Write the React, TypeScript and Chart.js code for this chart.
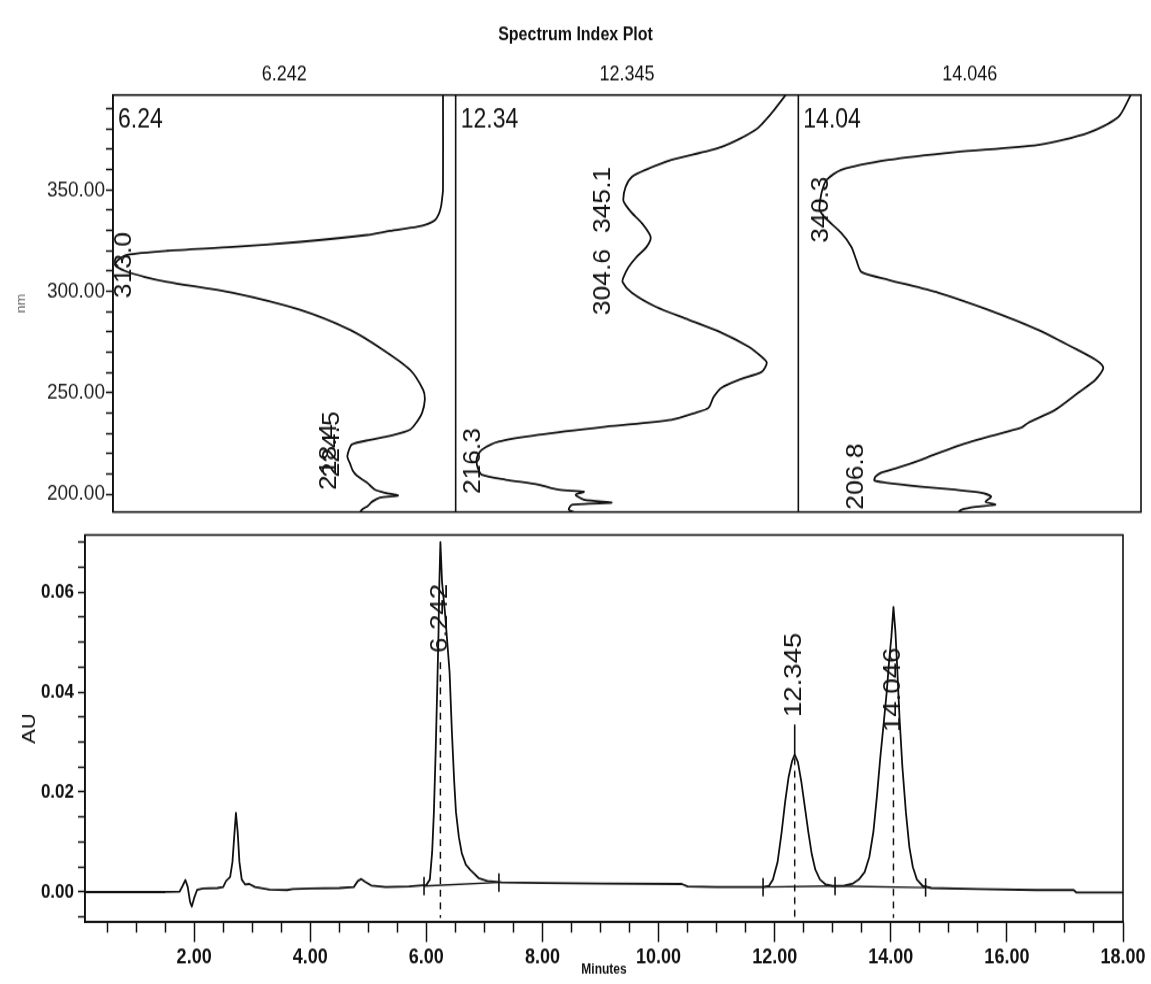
import React, { useEffect, useRef } from "react";
import { Chart, registerables } from "chart.js";

Chart.register(...registerables);

// ---------- spectra (wavelength in nm vs. relative absorbance, 0..1 per panel) ----------
const spectrumTimes = ["6.242", "12.345", "14.046"];

const spec1Nm = [396.8, 350.0, 345.1, 341.6, 338.2, 335.2, 333.3, 331.8, 329.8, 327.8, 324.4, 321.9, 320.0, 318.0, 315.5, 313.0, 310.1, 307.1, 304.7, 299.3, 290.9, 281.0, 271.2, 261.3, 251.5, 246.6, 240.1, 235.7, 231.8, 228.8, 226.8, 224.5, 221.5, 218.4, 215.0, 211.5, 209.1, 205.7, 202.2, 200.7, 199.3, 198.3, 196.3, 194.3, 192.4, 191.2];
const spec1Abs = [0.963, 0.963, 0.960, 0.957, 0.951, 0.940, 0.919, 0.887, 0.808, 0.741, 0.546, 0.350, 0.158, 0.041, 0.015, 0.006, 0.035, 0.093, 0.158, 0.350, 0.546, 0.692, 0.788, 0.867, 0.905, 0.910, 0.902, 0.887, 0.867, 0.808, 0.750, 0.697, 0.688, 0.684, 0.692, 0.700, 0.712, 0.741, 0.765, 0.794, 0.832, 0.779, 0.756, 0.744, 0.727, 0.721];

const spec2Nm = [396.8, 387.9, 379.6, 371.2, 364.8, 359.9, 356.4, 351.5, 345.1, 342.6, 338.7, 333.7, 326.8, 321.9, 317.0, 312.1, 307.1, 304.6, 299.3, 292.4, 286.0, 279.6, 272.7, 267.7, 264.8, 260.3, 256.4, 252.5, 248.0, 242.6, 240.1, 236.7, 233.3, 229.3, 225.9, 221.9, 218.9, 216.3, 213.1, 209.6, 207.1, 204.7, 202.2, 201.2, 199.8, 197.3, 195.8, 194.8, 192.4, 191.2];
const spec2Abs = [0.963, 0.922, 0.875, 0.776, 0.630, 0.554, 0.514, 0.496, 0.489, 0.496, 0.514, 0.543, 0.569, 0.557, 0.528, 0.505, 0.490, 0.487, 0.514, 0.584, 0.680, 0.776, 0.855, 0.893, 0.908, 0.893, 0.826, 0.776, 0.753, 0.738, 0.700, 0.630, 0.438, 0.242, 0.125, 0.076, 0.064, 0.061, 0.064, 0.076, 0.146, 0.242, 0.300, 0.374, 0.350, 0.374, 0.455, 0.339, 0.330, 0.344];

const spec3Nm = [396.8, 386.0, 378.1, 372.2, 368.7, 364.8, 359.9, 354.9, 350.0, 345.1, 340.3, 336.0, 328.8, 321.9, 315.5, 309.6, 305.7, 299.3, 290.9, 281.0, 272.7, 266.3, 262.3, 256.4, 250.0, 241.6, 235.2, 232.8, 228.3, 223.4, 217.0, 213.1, 210.6, 208.6, 206.8, 205.7, 203.7, 202.2, 200.7, 198.8, 196.3, 194.8, 193.8, 192.4, 191.2];
const spec3Abs = [0.970, 0.934, 0.846, 0.700, 0.458, 0.263, 0.125, 0.082, 0.070, 0.064, 0.062, 0.080, 0.125, 0.155, 0.169, 0.184, 0.263, 0.409, 0.554, 0.700, 0.797, 0.867, 0.890, 0.867, 0.817, 0.750, 0.671, 0.651, 0.554, 0.458, 0.359, 0.292, 0.242, 0.225, 0.222, 0.254, 0.359, 0.458, 0.534, 0.563, 0.546, 0.575, 0.517, 0.476, 0.467];

// wavelength annotations: text, panel index, horizontal anchor (relative absorbance)
const specLabelText = ["313.0", "218.4", "224.5", "345.1", "304.6", "216.3", "340.3", "206.8"];
const specLabelPanel = [0, 0, 0, 1, 1, 1, 2, 2];
const specLabelAbs = [0.033, 0.632, 0.642, 0.432, 0.432, 0.053, 0.067, 0.169];

const nmMajorTicks = [200, 250, 300, 350];

// ---------- chromatogram ----------
const chromTime = [0.12, 0.5, 1.0, 1.5, 1.75, 1.80, 1.85, 1.89, 1.93, 1.96, 2.00, 2.05, 2.15, 2.40, 2.50, 2.55, 2.62, 2.66, 2.69, 2.72, 2.75, 2.78, 2.82, 2.88, 2.95, 3.05, 3.3, 3.6, 3.7, 4.0, 4.5, 4.75, 4.82, 4.88, 4.95, 5.05, 5.3, 5.7, 6.00, 6.06, 6.10, 6.13, 6.16, 6.19, 6.21, 6.22, 6.242, 6.27, 6.32, 6.36, 6.40, 6.44, 6.48, 6.51, 6.56, 6.61, 6.68, 6.76, 6.90, 7.05, 7.3, 8.0, 9.0, 10.4, 10.5, 11.0, 11.8, 11.9, 11.97, 12.05, 12.12, 12.18, 12.24, 12.30, 12.345, 12.40, 12.46, 12.52, 12.58, 12.64, 12.70, 12.78, 12.88, 13.0, 13.2, 13.35, 13.45, 13.55, 13.63, 13.70, 13.76, 13.82, 13.88, 13.93, 13.97, 14.01, 14.046, 14.08, 14.11, 14.15, 14.20, 14.26, 14.32, 14.38, 14.45, 14.55, 14.7, 15.5, 16.5, 17.15, 17.2, 18.0];
const chromAU = [0.0000, 0.0000, 0.0000, 0.0000, 0.0001, 0.0012, 0.0024, 0.0010, -0.0020, -0.0029, -0.0012, 0.0004, 0.0007, 0.0008, 0.0010, 0.0022, 0.0030, 0.0060, 0.0110, 0.0158, 0.0120, 0.0060, 0.0025, 0.0015, 0.0016, 0.0010, 0.0005, 0.0004, 0.0006, 0.0007, 0.0008, 0.0010, 0.0022, 0.0026, 0.0020, 0.0013, 0.0010, 0.0011, 0.0014, 0.0025, 0.0080, 0.0160, 0.0280, 0.0420, 0.0520, 0.0600, 0.0700, 0.0620, 0.0560, 0.0500, 0.0440, 0.0320, 0.0220, 0.0160, 0.0110, 0.0078, 0.0055, 0.0044, 0.0028, 0.0022, 0.0019, 0.0018, 0.0017, 0.0016, 0.0011, 0.0010, 0.0010, 0.0012, 0.0025, 0.0060, 0.0120, 0.0180, 0.0230, 0.0262, 0.0275, 0.0260, 0.0220, 0.0170, 0.0120, 0.0075, 0.0045, 0.0025, 0.0015, 0.0012, 0.0013, 0.0017, 0.0025, 0.0040, 0.0070, 0.0120, 0.0190, 0.0270, 0.0340, 0.0400, 0.0460, 0.0510, 0.0570, 0.0520, 0.0450, 0.0350, 0.0250, 0.0160, 0.0090, 0.0050, 0.0025, 0.0012, 0.0008, 0.0006, 0.0004, 0.0004, -0.0001, -0.0001];

const peakTimes = [6.242, 12.345, 14.046];
const peakApexAU = [0.0700, 0.0275, 0.0570];
const peakLabelAU = [0.0478, 0.0350, 0.0320];
const peakDashTopAU = [0.0460, 0.0268, 0.0310];
const dashBottomAU = -0.0052;

const intMarkTimes = [5.96, 7.25, 11.8, 13.04, 14.6];
const intMarkAU = [0.0012, 0.0019, 0.0010, 0.0012, 0.0009];
const intBaselines = [[0, 1], [2, 3], [3, 4]];

const auMajorTicks = [0, 0.02, 0.04, 0.06];
const minuteMajorTicks = [2, 4, 6, 8, 10, 12, 14, 16, 18];

// ---------- layout ----------
const FONT = '"Liberation Sans", Arial, Helvetica, sans-serif';
Chart.defaults.font.family = FONT;
Chart.defaults.color = "#111";

const PAGE_W = 1151;
const PAGE_H = 984;
const TOP_CSS_H = 540;
const TOP_DRAW_H = 470;
const TOP_K = TOP_CSS_H / TOP_DRAW_H;
const BOT_TOP = 500;
const BOT_CSS_H = 484;
const BOT_DRAW_H = 421;
const BOT_K = BOT_CSS_H / BOT_DRAW_H;

const INK = "#111";

const range = (from: number, to: number, step: number) => {
  const out: number[] = [];
  const n = Math.round((to - from) / step);
  for (let i = 0; i <= n; i++) out.push(Math.round((from + i * step) * 10000) / 10000);
  return out;
};
const isOn = (v: number, list: number[]) => list.some((m) => Math.abs(m - v) < 1e-6);

const spectraDecor = {
  id: "spectraDecor",
  afterDraw(chart: any) {
    const { ctx, chartArea: a } = chart;
    const x = chart.scales.x;
    const y = chart.scales.y;
    ctx.save();
    ctx.strokeStyle = INK;
    ctx.lineWidth = 1.6;
    ctx.strokeRect(a.left, a.top, a.right - a.left, a.bottom - a.top);
    ctx.beginPath();
    for (let i = 1; i < spectrumTimes.length; i++) {
      const px = x.getPixelForValue(i);
      ctx.moveTo(px, a.top);
      ctx.lineTo(px, a.bottom);
    }
    ctx.stroke();

    ctx.fillStyle = INK;
    ctx.textAlign = "center";
    ctx.textBaseline = "middle";
    ctx.font = `bold 16px ${FONT}`;
    ctx.fillText("Spectrum Index Plot", chart.width / 2, 35 / TOP_K);
    ctx.font = `18px ${FONT}`;
    spectrumTimes.forEach((t, i) => ctx.fillText(t, x.getPixelForValue(i + 0.5), 75 / TOP_K));

    ctx.textAlign = "left";
    ctx.textBaseline = "alphabetic";
    ctx.font = `23px ${FONT}`;
    spectrumTimes.forEach((t, i) => {
      const short = (Math.floor(parseFloat(t) * 100) / 100).toFixed(2);
      ctx.fillText(short, x.getPixelForValue(i) + 5, 127 / TOP_K);
    });

    ctx.textAlign = "center";
    ctx.textBaseline = "middle";
    ctx.font = `23px ${FONT}`;
    specLabelText.forEach((txt, k) => {
      const px = x.getPixelForValue(specLabelPanel[k] + specLabelAbs[k]);
      const half = ctx.measureText(txt).width / 2;
      let py = y.getPixelForValue(parseFloat(txt));
      py = Math.min(py, a.bottom - 2 - half);
      py = Math.max(py, a.top + 2 + half);
      ctx.save();
      ctx.translate(px, py);
      ctx.rotate(-Math.PI / 2);
      ctx.fillText(txt, 0, 0);
      ctx.restore();
    });
    ctx.restore();
  },
};

const chromDecor = {
  id: "chromDecor",
  afterDraw(chart: any) {
    const { ctx, chartArea: a } = chart;
    const x = chart.scales.x;
    const y = chart.scales.y;
    ctx.save();
    ctx.strokeStyle = INK;
    ctx.lineWidth = 1.6;
    ctx.strokeRect(a.left, a.top, a.right - a.left, a.bottom - a.top);
    ctx.fillStyle = INK;
    ctx.font = `24px ${FONT}`;
    ctx.textAlign = "left";
    ctx.textBaseline = "middle";
    peakTimes.forEach((t, i) => {
      ctx.save();
      ctx.translate(x.getPixelForValue(t), y.getPixelForValue(peakLabelAU[i]));
      ctx.rotate(-Math.PI / 2);
      ctx.fillText(t.toFixed(3), 0, 0);
      ctx.restore();
    });
    ctx.restore();
  },
};

function spectraConfig(): any {
  const sets = [
    [spec1Nm, spec1Abs],
    [spec2Nm, spec2Abs],
    [spec3Nm, spec3Abs],
  ];
  return {
    type: "line",
    data: {
      datasets: sets.map(([nm, ab], p) => ({
        data: nm.map((w, i) => ({ x: p + ab[i], y: w })),
        borderColor: INK,
        borderWidth: 1.8,
        pointRadius: 0,
        tension: 0.25,
        borderJoinStyle: "round",
      })),
    },
    options: {
      animation: false,
      responsive: false,
      devicePixelRatio: 1,
      events: [],
      layout: {
        padding: { top: 95 / TOP_K, bottom: TOP_DRAW_H - 512 / TOP_K, left: 0, right: PAGE_W - 1141 },
      },
      plugins: { legend: { display: false }, tooltip: { enabled: false }, title: { display: false }, colors: { enabled: false } },
      scales: {
        x: { type: "linear", min: 0, max: 3, display: false },
        y: {
          type: "linear",
          min: 191.2,
          max: 396.8,
          afterFit: (s: any) => {
            s.width = 113;
          },
          afterBuildTicks: (s: any) => {
            s.ticks = range(200, 390, 10).map((v) => ({ value: v }));
          },
          ticks: {
            autoSkip: false,
            padding: 1,
            color: "#222",
            font: { size: 19 },
            callback: (v: number) => (isOn(v, nmMajorTicks) ? Number(v).toFixed(2) : ""),
          },
          grid: { drawOnChartArea: false, drawTicks: true, tickLength: 7, tickWidth: 1.5, tickColor: INK },
          border: { display: true, color: INK, width: 1.6 },
          title: { display: true, text: "nm", color: "#666", font: { size: 12 }, padding: { top: 14, bottom: 0 } },
        },
      },
    },
    plugins: [spectraDecor],
  };
}

function chromConfig(): any {
  const datasets: any[] = [
    {
      data: chromTime.map((t, i) => ({ x: t, y: chromAU[i] })),
      borderColor: INK,
      borderWidth: 1.8,
      pointRadius: 0,
      tension: 0,
      borderJoinStyle: "round",
    },
    ...intBaselines.map(([i, j]) => ({
      data: [
        { x: intMarkTimes[i], y: intMarkAU[i] },
        { x: intMarkTimes[j], y: intMarkAU[j] },
      ],
      borderColor: INK,
      borderWidth: 1.3,
      pointRadius: 0,
    })),
    {
      data: intMarkTimes.map((t, i) => ({ x: t, y: intMarkAU[i] })),
      showLine: false,
      pointStyle: "line",
      pointRotation: 90,
      pointRadius: 8,
      pointBorderWidth: 1.6,
      pointBorderColor: INK,
      borderColor: INK,
    },
    ...peakTimes.map((t, i) => ({
      data: [
        { x: t, y: peakDashTopAU[i] },
        { x: t, y: dashBottomAU },
      ],
      borderColor: INK,
      borderWidth: 1.5,
      borderDash: [6, 5],
      pointRadius: 0,
    })),
    ...peakTimes
      .map((t, i) => ({ t, i }))
      .filter(({ i }) => peakLabelAU[i] > peakApexAU[i])
      .map(({ t, i }) => ({
        data: [
          { x: t, y: peakApexAU[i] },
          { x: t, y: peakLabelAU[i] - 0.0015 },
        ],
        borderColor: INK,
        borderWidth: 1.6,
        pointRadius: 0,
      })),
  ];

  return {
    type: "line",
    data: { datasets },
    options: {
      animation: false,
      responsive: false,
      devicePixelRatio: 1,
      events: [],
      layout: { padding: { top: (535 - BOT_TOP) / BOT_K, bottom: 0, left: 0, right: PAGE_W - 1123 } },
      plugins: { legend: { display: false }, tooltip: { enabled: false }, title: { display: false }, colors: { enabled: false } },
      scales: {
        x: {
          type: "linear",
          min: 0.12,
          max: 18,
          afterFit: (s: any) => {
            s.height = BOT_DRAW_H - (922 - BOT_TOP) / BOT_K;
          },
          afterBuildTicks: (s: any) => {
            s.ticks = range(0.5, 18, 0.5).map((v) => ({ value: v }));
          },
          ticks: {
            autoSkip: false,
            maxRotation: 0,
            minRotation: 0,
            padding: 3,
            color: INK,
            font: { size: 18, weight: "bold" },
            callback: (v: number) => (isOn(v, minuteMajorTicks) ? Number(v).toFixed(2) : ""),
          },
          grid: {
            drawOnChartArea: false,
            drawTicks: true,
            tickLength: 20 / BOT_K,
            tickWidth: 1.5,
            tickColor: INK,
            tickBorderDash: (c: any) =>
              c.tick && isOn(c.tick.value, minuteMajorTicks) ? [] : [10 / BOT_K, 200],
          },
          border: { display: true, color: INK, width: 1.6 },
          title: {
            display: true,
            text: "Minutes",
            color: INK,
            font: { size: 12, weight: "bold" },
            padding: { top: 0, bottom: 5 },
          },
        },
        y: {
          type: "linear",
          min: -0.006,
          max: 0.0714,
          afterFit: (s: any) => {
            s.width = 85;
          },
          afterBuildTicks: (s: any) => {
            s.ticks = range(-0.005, 0.07, 0.005).map((v) => ({ value: v }));
          },
          ticks: {
            autoSkip: false,
            padding: 4,
            color: INK,
            font: { size: 17, weight: "bold" },
            callback: (v: number) => (isOn(v, auMajorTicks) ? Number(v).toFixed(2) : ""),
          },
          grid: { drawOnChartArea: false, drawTicks: true, tickLength: 7, tickWidth: 1.5, tickColor: INK },
          border: { display: true, color: INK, width: 1.6 },
          title: { display: true, text: "AU", color: INK, font: { size: 19 }, padding: { top: 18.6, bottom: 0 } },
        },
      },
    },
    plugins: [chromDecor],
  };
}

export default function App() {
  const topRef = useRef<HTMLCanvasElement>(null);
  const botRef = useRef<HTMLCanvasElement>(null);

  useEffect(() => {
    const top = new Chart(topRef.current as HTMLCanvasElement, spectraConfig());
    const bot = new Chart(botRef.current as HTMLCanvasElement, chromConfig());
    return () => {
      top.destroy();
      bot.destroy();
    };
  }, []);

  return (
    <div
      style={{
        position: "absolute",
        left: 0,
        top: 0,
        width: PAGE_W,
        height: PAGE_H,
        background: "#fff",
        overflow: "hidden",
      }}
    >
      <canvas
        ref={topRef}
        width={PAGE_W}
        height={TOP_DRAW_H}
        style={{ position: "absolute", left: 0, top: 0, width: `${PAGE_W}px`, height: `${TOP_CSS_H}px` }}
      />
      <canvas
        ref={botRef}
        width={PAGE_W}
        height={BOT_DRAW_H}
        style={{ position: "absolute", left: 0, top: BOT_TOP, width: `${PAGE_W}px`, height: `${BOT_CSS_H}px` }}
      />
    </div>
  );
}
